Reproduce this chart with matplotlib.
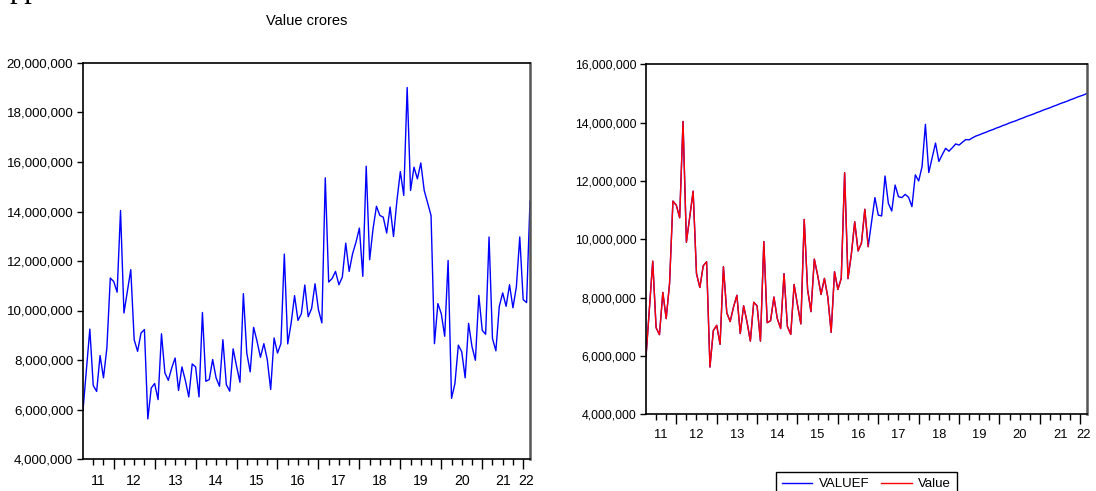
import matplotlib
matplotlib.use("Agg")
import matplotlib.pyplot as plt
import numpy as np
from matplotlib.ticker import FuncFormatter

plt.rcParams['font.family'] = ['Liberation Sans', 'DejaVu Sans']

# monthly observations, 2011M04 .. 2022M03 (millions)
start_year = 2011
start_month = 4
value = [5.97, 7.60, 9.25, 6.97, 6.73, 8.18, 7.28, 8.49, 11.31, 11.17,
         10.74, 14.04, 9.90, 10.77, 11.65, 8.82, 8.35, 9.09, 9.23, 5.62,
         6.87, 7.05, 6.40, 9.06, 7.48, 7.18, 7.68, 8.08, 6.77, 7.72,
         7.17, 6.51, 7.84, 7.72, 6.51, 9.92, 7.14, 7.21, 8.02, 7.28,
         6.94, 8.82, 7.01, 6.74, 8.45, 7.75, 7.10, 10.68, 8.28, 7.52,
         9.32, 8.76, 8.11, 8.66, 8.02, 6.81, 8.89, 8.28, 8.66, 12.28,
         8.65, 9.49, 10.60, 9.60, 9.87, 11.03, 9.75, 10.08, 11.08, 10.03,
         9.50, 15.36, 11.15, 11.29, 11.58, 11.04, 11.35, 12.72, 11.58, 12.29,
         12.76, 13.33, 11.38, 15.83, 12.05, 13.30, 14.21, 13.84, 13.77, 13.13,
         14.18, 12.99, 14.44, 15.61, 14.65, 19.01, 14.85, 15.79, 15.32, 15.96,
         14.85, 14.34, 13.84, 8.66, 10.28, 9.87, 8.96, 12.02, 6.45, 7.05,
         8.60, 8.33, 7.28, 9.48, 8.54, 7.99, 10.61, 9.20, 9.04, 12.97,
         8.87, 8.37, 10.17, 10.71, 10.17, 11.04, 10.11, 10.95, 12.97, 10.44,
         10.32, 14.42]

# estimation sample used for the forecast (2011M04 .. 2016M10)
n_sample = 67
# forecast values after the sample (millions)
forecast = [10.60, 11.43, 10.83, 10.80, 12.17, 11.23, 10.97, 11.86, 11.46, 11.43,
            11.54, 11.44, 11.12, 12.21, 12.00, 12.49, 13.94, 12.29, 12.80, 13.30,
            12.67, 12.90, 13.12, 13.02, 13.14, 13.27, 13.23, 13.33, 13.42, 13.41,
            13.48, 13.54, 13.58, 13.63, 13.67, 13.72, 13.76, 13.81, 13.85, 13.90,
            13.94, 13.99, 14.03, 14.07, 14.12, 14.16, 14.21, 14.25, 14.29, 14.34,
            14.38, 14.43, 14.47, 14.51, 14.56, 14.60, 14.65, 14.69, 14.73, 14.78,
            14.82, 14.87, 14.91, 14.95, 15.00]

year_labels = ["11", "12", "13", "14", "15", "16", "17", "18", "19", "20", "21", "22"]

value = np.array(value) * 1e6
valuef = np.concatenate([value[:n_sample], np.array(forecast) * 1e6])
t = start_year + (start_month - 1) / 12 + np.arange(len(value)) / 12

W, H = 1096, 491
fig = plt.figure(figsize=(W / 100, H / 100), dpi=100)

BLUE = "#0000ff"
RED = "#ff0000"
fmt = FuncFormatter(lambda v, p: f"{v:,.0f}")


def style_axes(ax, ymin, ymax, fs):
    ax.set_xlim(t[0], t[-1])
    ax.set_ylim(ymin, ymax)
    ax.set_yticks(np.arange(ymin, ymax + 1, 2e6))
    ax.yaxis.set_major_formatter(fmt)
    ax.tick_params(axis="y", direction="out", length=4.5, width=1, labelsize=fs, pad=2.5)
    ax.set_xticks(np.arange(2012, 2023))
    ax.set_xticks(np.arange(2011.5, 2022.01, 0.25), minor=True)
    ax.tick_params(axis="x", which="major", direction="out", length=7, width=1, labelbottom=False)
    ax.tick_params(axis="x", which="minor", direction="out", length=4, width=1)
    for s in ["left", "bottom", "top"]:
        ax.spines[s].set_linewidth(1.2)
        ax.spines[s].set_color("black")
    ax.spines["right"].set_linewidth(1.8)
    ax.spines["right"].set_color("#555555")
    # year labels centred on the visible part of each year
    pos = []
    for i, lab in enumerate(year_labels):
        y0 = max(start_year + i, t[0])
        y1 = min(start_year + i + 1, t[-1])
        pos.append((y0 + y1) / 2)
    sec = ax.secondary_xaxis("bottom")
    sec.set_xticks(pos, year_labels)
    sec.tick_params(length=0, pad=10.5, labelsize=fs + 0.5)
    sec.spines["bottom"].set_visible(False)


# left panel
ax1 = fig.add_axes([83 / W, 1 - 459 / H, 447 / W, 396 / H])
ax1.plot(t, value, color=BLUE, lw=1.0)
style_axes(ax1, 4e6, 20e6, 9.6)
fig.text((83 + 530) / 2 / W, 1 - 21 / H, "Value crores", ha="center", va="center", fontsize=10.5)

# right panel
ax2 = fig.add_axes([646 / W, 1 - 414.3 / H, 441 / W, 350 / H])
l1, = ax2.plot(t, valuef, color=BLUE, lw=1.0, label="VALUEF")
l2, = ax2.plot(t[:n_sample], value[:n_sample], color=RED, lw=1.0, label="Value")
style_axes(ax2, 4e6, 16e6, 8.8)

leg = fig.legend(handles=[l1, l2], loc="upper center",
                 bbox_to_anchor=((646 + 1087) / 2 / W, 1 - 465.7 / H),
                 ncol=2, frameon=True, fancybox=False, edgecolor="black",
                 framealpha=1, fontsize=9.5, handlelength=2.3,
                 columnspacing=0.9, borderpad=0.45, handletextpad=0.5)
leg.get_frame().set_linewidth(1.0)

# fragment of the page text above the chart
fig.text(10 / W, 1 + 3 / H, "pp", fontsize=22, family="Liberation Serif", va="baseline")

fig.savefig("out.png", dpi=100)
